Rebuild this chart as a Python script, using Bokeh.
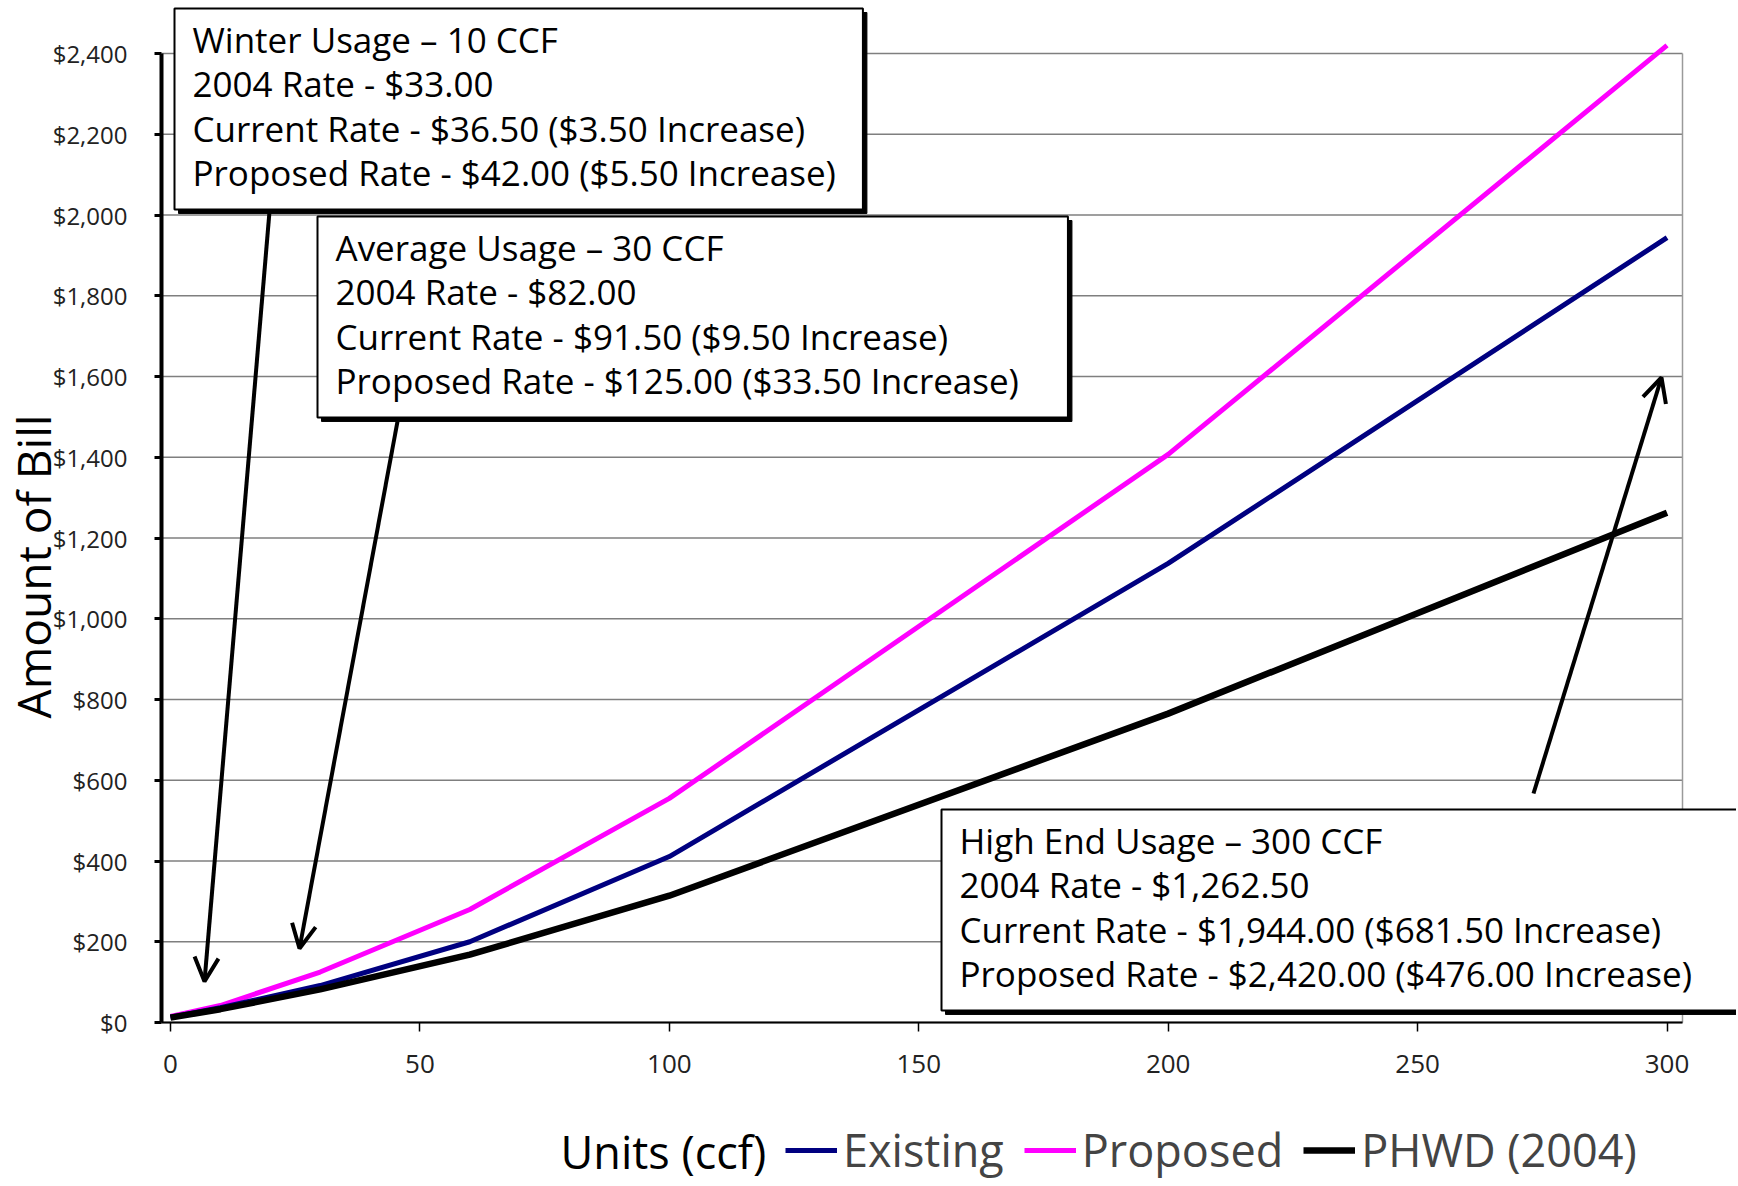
import numpy as np
from bokeh.plotting import figure
from bokeh.models import (Range1d, Label, Arrow, OpenHead, Legend, LegendItem,
                          FixedTicker, NumeralTickFormatter)
from bokeh.embed import file_html
from bokeh.resources import INLINE

# ---------------- data ----------------
units = [0, 10, 30, 60, 100, 200, 300]
existing = [13, 36.5, 91.5, 200, 411, 1137, 1944]
proposed = [15, 42, 125, 280, 555, 1407, 2420]
phwd_2004 = [12, 33, 82, 168, 314, 765, 1262.5]
series_names = ["Existing", "Proposed", "PHWD (2004)"]
x_ticks = [0, 50, 100, 150, 200, 250, 300]
y_ticks = [0, 200, 400, 600, 800, 1000, 1200, 1400, 1600, 1800, 2000, 2200, 2400]

winter_lines = ["Winter Usage \u2013 10 CCF", "2004 Rate - $33.00",
                "Current Rate - $36.50 ($3.50 Increase)",
                "Proposed Rate - $42.00 ($5.50 Increase)"]
average_lines = ["Average Usage \u2013 30 CCF", "2004 Rate - $82.00",
                 "Current Rate - $91.50 ($9.50 Increase)",
                 "Proposed Rate - $125.00 ($33.50 Increase)"]
high_lines = ["High End Usage \u2013 300 CCF", "2004 Rate - $1,262.50",
              "Current Rate - $1,944.00 ($681.50 Increase)",
              "Proposed Rate - $2,420.00  ($476.00 Increase)"]
x_title = "Units (ccf)"
y_title = "Amount of Bill"

FONT = "Open Sans"
W, H = 1736, 1184
OFF = 0  # page offset of the canvas
# visible chart area (data limits) and its page-pixel position
XA = (-1.8, 303.1)
YA = (0, 2400)
FL, FR, FT, FB = 161, 1682, 53, 1022
XS = (FR - FL) / (XA[1] - XA[0])
YS = (FB - FT) / (YA[1] - YA[0])
# the frame covers the whole canvas so that boxes and legend are not clipped
XR = (XA[0] - (FL - OFF) / XS, XA[1] + (W + OFF - FR) / XS)
YR = (YA[0] - (H + OFF - FB) / YS, YA[1] + (FT - OFF) / YS)


def px2x(px):
    return XA[0] + (px - FL) / XS


def py2y(py):
    return YA[0] + (FB - py) / YS


p = figure(width=W, height=H, output_backend="svg", toolbar_location=None,
           title=None, x_range=Range1d(*XR), y_range=Range1d(*YR),
           min_border_left=0, min_border_right=0, min_border_top=0, min_border_bottom=0)
p.background_fill_color = "white"
p.border_fill_color = "white"
p.outline_line_color = None
p.xgrid.grid_line_color = None
p.ygrid.grid_line_color = None

# horizontal gridlines and right border of the chart area
p.segment(x0=[XA[0]] * len(y_ticks), x1=[XA[1]] * len(y_ticks), y0=y_ticks, y1=y_ticks,
          line_color="#7f7f7f", line_width=1.3)
p.segment(x0=[XA[1]], x1=[XA[1]], y0=[YA[0]], y1=[YA[1]], line_color="#9a9a9a", line_width=1.5)

# axes pinned to the chart area
p.yaxis.fixed_location = XA[0]
p.yaxis.bounds = YA
p.yaxis.ticker = FixedTicker(ticks=y_ticks)
p.yaxis.formatter = NumeralTickFormatter(format="$0,0")
p.yaxis.axis_line_width = 4
p.yaxis.axis_line_color = "black"
p.yaxis.major_tick_out = 7
p.yaxis.major_tick_in = 0
p.yaxis.major_tick_line_width = 3
p.yaxis.minor_tick_line_color = None
p.yaxis.major_label_standoff = 27
p.yaxis.major_label_text_font = FONT
p.yaxis.major_label_text_font_size = "24px"
p.yaxis.major_label_text_color = "#222222"

p.xaxis.fixed_location = YA[0]
p.xaxis.bounds = XA
p.xaxis.ticker = FixedTicker(ticks=x_ticks)
p.xaxis.axis_line_width = 2
p.xaxis.axis_line_color = "black"
p.xaxis.major_tick_out = 9
p.xaxis.major_tick_in = 0
p.xaxis.major_tick_line_width = 1.5
p.xaxis.minor_tick_line_color = None
p.xaxis.major_label_standoff = 23
p.xaxis.major_label_text_font = FONT
p.xaxis.major_label_text_font_size = "26px"
p.xaxis.major_label_text_color = "#222222"

# lines
r_prop = p.line(units, proposed, line_color="#FF00FF", line_width=5)
r_exist = p.line(units, existing, line_color="#000080", line_width=5)
r_phwd = p.line(units, phwd_2004, line_color="black", line_width=6.5)

# arrows
for (sx, sy, ex, ey) in [(269, 211, 204, 981), (397, 421, 299, 948), (1533, 793, 1661, 377)]:
    p.add_layout(Arrow(x_start=px2x(sx), y_start=py2y(sy), x_end=px2x(ex), y_end=py2y(ey),
                       line_width=4, line_color="black",
                       end=OpenHead(size=24, line_width=4, line_color="black")))


def make_label(pad, **kw):
    try:
        return Label(padding=pad, **kw)
    except Exception:
        return Label(padding=12, **kw)


def text_box(lines, left_px, top_px, right_pad=27):
    txt = "\n".join(lines)
    pad = dict(left=18, right=right_pad, top=7, bottom=13)
    common = dict(x=px2x(left_px), y=py2y(top_px), text=txt,
                  text_font=FONT, text_font_size="35px", text_line_height=0.95,
                  text_align="left", text_baseline="top")
    shadow = make_label(pad, x_offset=4, y_offset=-4, text_color="black",
                        background_fill_color="black", border_line_color="black", **common)
    box = make_label(pad, text_color="black", background_fill_color="white",
                     border_line_color="black", border_line_width=2, **common)
    p.add_layout(shadow)
    p.add_layout(box)


text_box(winter_lines, 174, 8)
text_box(average_lines, 317, 216, right_pad=49)
text_box(high_lines, 941, 809, right_pad=60)

# y axis title
p.add_layout(Label(x=px2x(32), y=py2y(566), text=y_title, angle=np.pi / 2,
                   text_align="center", text_baseline="middle",
                   text_font=FONT, text_font_size="46px", text_color="black"))

# x axis title + legend
p.add_layout(Label(x=px2x(560), y=py2y(1151), text=x_title, text_align="left",
                   text_baseline="middle", text_font=FONT,
                   text_font_size="45px", text_color="black"))

legend = Legend(items=[LegendItem(label=series_names[0], renderers=[r_exist]),
                       LegendItem(label=series_names[1], renderers=[r_prop]),
                       LegendItem(label=series_names[2], renderers=[r_phwd])],
                orientation="horizontal", location=(785 - OFF, 4),
                label_text_font=FONT, label_text_font_size="45px",
                glyph_width=52, glyph_height=44, label_standoff=6, spacing=20,
                padding=0, margin=0, border_line_alpha=0, background_fill_alpha=0)
p.add_layout(legend, "center")

open("out.html", "w").write(file_html(p, INLINE))
